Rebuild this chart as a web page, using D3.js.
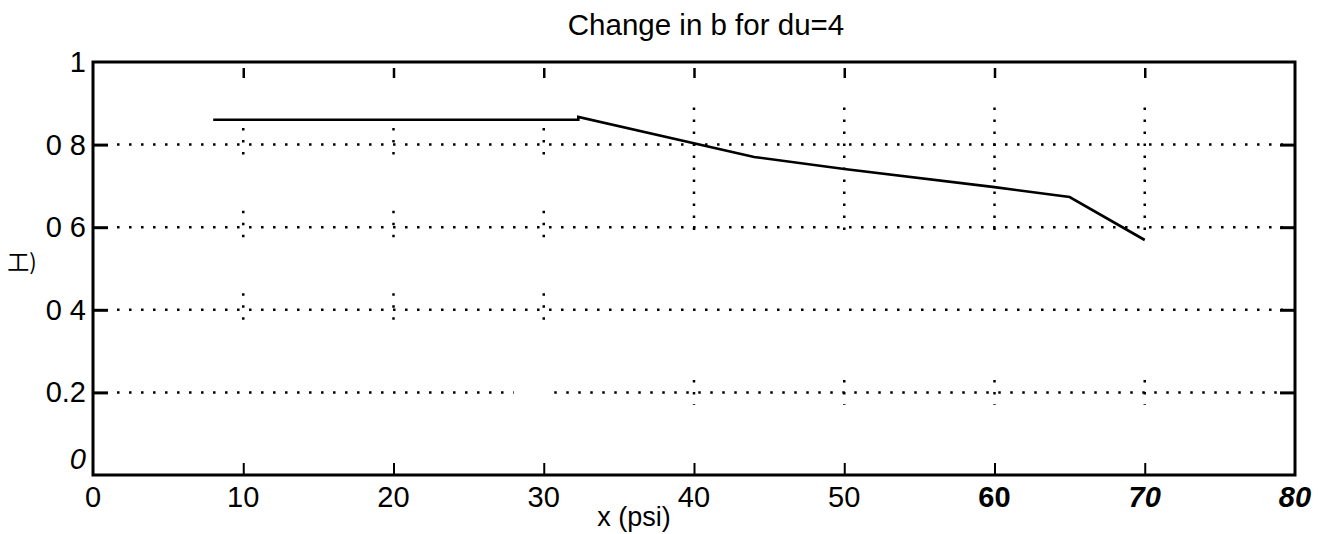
<!DOCTYPE html>
<html>
<head>
<meta charset="utf-8">
<script src="https://cdn.jsdelivr.net/npm/d3@7/dist/d3.min.js"></script>
<style>
  html, body { margin: 0; padding: 0; background: #fff; }
  svg { display: block; font-family: "Liberation Sans", Arial, Helvetica, sans-serif; }
</style>
</head>
<body>
<svg id="chart" width="1326" height="534"></svg>
<script>
// ---- data ----
const xValues = [8, 32.3, 32.3, 44, 50, 60, 65, 70];
const yValues = [0.860, 0.860, 0.867, 0.770, 0.741, 0.697, 0.673, 0.569];
const xTicks = [0, 10, 20, 30, 40, 50, 60, 70, 80];
const xTickLabels = ["0", "10", "20", "30", "40", "50", "60", "70", "80"];
const yTicks = [0, 0.2, 0.4, 0.6, 0.8, 1];
const yTickLabels = ["0", "0.2", "0 4", "0 6", "0 8", "1"];
const hGridSpans = [[1.6, 79.2], [1.6, 79.2], [1.6, 79.2], [1.6, 28], [30.7, 79.2]];
const hGridSpanLevels = [0.8, 0.6, 0.4, 0.2, 0.2];
const vGridX = [10, 20, 30, 40, 50, 60, 70];
const title = "Change in b for du=4";
const xLabel = "x (psi)";
const yLabel = "工)";

// ---- layout ----
const svg = d3.select("#chart");
const mLeft = 93, mRight = 1295, mTop = 62, mBottom = 475;
const x = d3.scaleLinear().domain([0, 80]).range([mLeft, mRight]);
const y = d3.scaleLinear().domain([0, 1]).range([mBottom, mTop]);

// dotted grid
const gGrid = svg.append("g").attr("stroke", "#000").attr("stroke-width", 2.5)
  .attr("stroke-dasharray", "2.5,9.5").attr("fill", "none");
hGridSpans.forEach((s, i) => {
  gGrid.append("line")
    .attr("x1", x(s[0])).attr("x2", x(s[1]))
    .attr("y1", y(hGridSpanLevels[i])).attr("y2", y(hGridSpanLevels[i]));
});
// vertical dotted grid (only partly visible in the original)
vGridX.forEach(v => {
  if (v >= 40) {
    gGrid.append("line").attr("x1", x(v)).attr("x2", x(v))
      .attr("y1", y(0.89)).attr("y2", y(0.57));
    gGrid.append("line").attr("x1", x(v)).attr("x2", x(v))
      .attr("y1", y(0.23)).attr("y2", y(0.17));
  } else {
    [0.8, 0.6, 0.4].forEach(l => {
      gGrid.append("line").attr("x1", x(v)).attr("x2", x(v))
        .attr("y1", y(l + 0.04)).attr("y2", y(l - 0.04));
    });
  }
});

// frame
svg.append("rect").attr("x", mLeft).attr("y", mTop)
  .attr("width", mRight - mLeft).attr("height", mBottom - mTop)
  .attr("fill", "none").attr("stroke", "#000").attr("stroke-width", 3);

// axes with inward ticks
const xAxisB = d3.axisBottom(x).tickValues(xTicks.slice(1, -1)).tickSize(-12).tickFormat("");
svg.append("g").attr("transform", `translate(0,${mBottom})`).call(xAxisB)
  .call(g => g.select(".domain").remove())
  .call(g => g.selectAll("line").attr("stroke-width", 2));
const xAxisT = d3.axisTop(x).tickValues(xTicks.slice(1, -1)).tickSize(-10).tickFormat("");
svg.append("g").attr("transform", `translate(0,${mTop + 6})`).call(xAxisT)
  .call(g => g.select(".domain").remove())
  .call(g => g.selectAll("line").attr("stroke-width", 2.5));
const yAxisL = d3.axisLeft(y).tickValues(yTicks.slice(1, -1)).tickSize(-15).tickFormat("");
svg.append("g").attr("transform", `translate(${mLeft},0)`).call(yAxisL)
  .call(g => g.select(".domain").remove())
  .call(g => g.selectAll("line").attr("stroke-width", 3));
const yAxisR = d3.axisRight(y).tickValues(yTicks.slice(1, -1)).tickSize(-15).tickFormat("");
svg.append("g").attr("transform", `translate(${mRight},0)`).call(yAxisR)
  .call(g => g.select(".domain").remove())
  .call(g => g.selectAll("line").attr("stroke-width", 3));

// tick labels
svg.append("g").selectAll("text").data(xTicks).join("text")
  .attr("x", d => x(d)).attr("y", mBottom + 32)
  .attr("text-anchor", "middle").attr("font-size", 29)
  .attr("font-style", (d, i) => i >= 7 ? "italic" : "normal")
  .attr("font-weight", (d, i) => i >= 6 ? "bold" : "normal")
  .text((d, i) => xTickLabels[i]);
svg.append("g").selectAll("text").data(yTicks).join("text")
  .attr("x", mLeft - 7).attr("y", d => y(d) + 10)
  .attr("text-anchor", "end").attr("font-size", 29)
  .attr("font-style", (d, i) => i === 0 ? "italic" : "normal")
  .attr("dy", (d, i) => i === 0 ? -16 : 0)
  .text((d, i) => yTickLabels[i]);

// line
svg.append("path")
  .datum(xValues.map((v, i) => [v, yValues[i]]))
  .attr("fill", "none").attr("stroke", "#000").attr("stroke-width", 2.6)
  .attr("d", d3.line().x(d => x(d[0])).y(d => y(d[1])));

// titles
svg.append("text").attr("x", 706).attr("y", 35)
  .attr("text-anchor", "middle").attr("font-size", 29.5).text(title);
svg.append("text").attr("x", 634).attr("y", 526)
  .attr("text-anchor", "middle").attr("font-size", 27).text(xLabel);
svg.append("text").attr("x", 22).attr("y", 270)
  .attr("text-anchor", "middle").attr("font-size", 22).attr("fill", "#000")
  .attr("font-family", "'Noto Sans CJK SC', sans-serif").text(yLabel);
</script>
</body>
</html>
